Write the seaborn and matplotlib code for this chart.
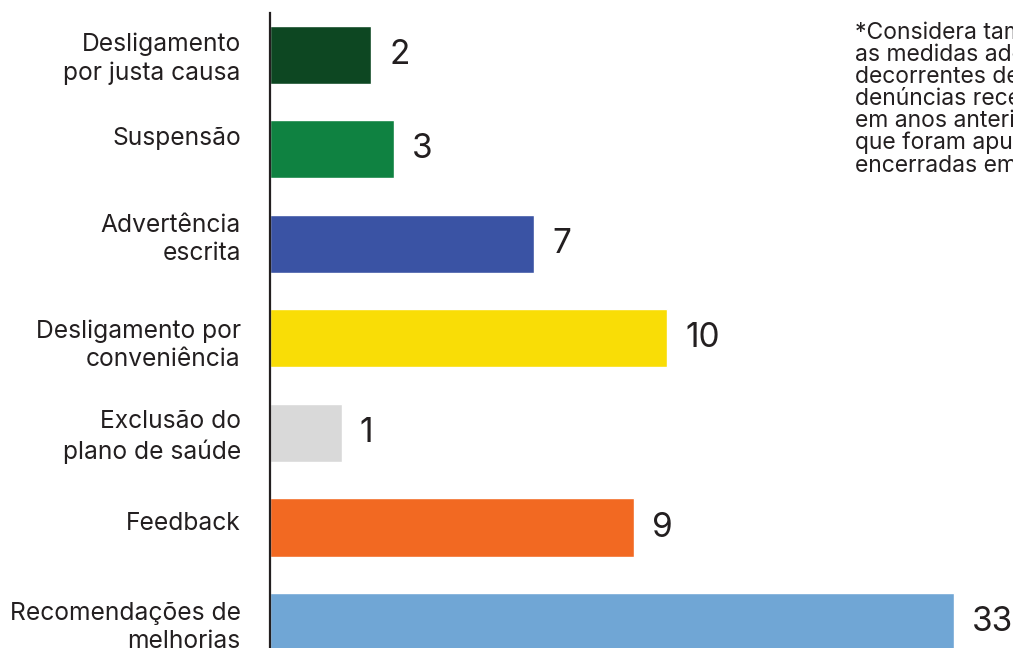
import matplotlib
matplotlib.use("Agg")
import matplotlib.pyplot as plt
import matplotlib.transforms as mtransforms
import seaborn as sns

# categorias e valores
categorias = ["Desligamento\npor justa causa", "Suspensão", "Advertência\nescrita",
              "Desligamento por\nconveniência", "Exclusão do\nplano de saúde",
              "Feedback", "Recomendações de\nmelhorias"]
valores = [2, 3, 7, 10, 1, 9, 33]
# comprimento desenhado das barras (escala nao linear)
comprimento = [2.55, 3.12, 6.65, 10.0, 1.81, 9.17, 17.23]
cores = ["#0d4722", "#0f8241", "#3a53a4", "#f9dd06", "#d9d9d9", "#f26922", "#70a6d5"]
# deslocamento vertical dos rotulos (pontos, positivo = para cima)
desloc_rotulo = [1, 10, 7, -1, 1, 5, 0]

nota = ("*Considera também\nas medidas adotadas\ndecorrentes de\ndenúncias recebidas\n"
        "em anos anteriores\nque foram apuradas e\nencerradas em 2023.")

sns.set_style("white")
plt.rcParams['font.family'] = ['Inter', 'DejaVu Sans']
texto = "#231f20"

fig = plt.figure(figsize=(10.13, 6.48), dpi=100)
ax = fig.add_axes([270/1013, 0, 1 - 270/1013, 1 - 13/648])

sns.barplot(x=comprimento, y=categorias, hue=categorias, palette=cores,
            legend=False, width=0.614, saturation=1, ax=ax, orient="h")

ax.set_xlim(0, 743/39.7)
ax.set_ylim(6.275, -0.444)
ax.set_xlabel("")
ax.set_ylabel("")
ax.set_xticks([])
for s in ["top", "right", "bottom"]:
    ax.spines[s].set_visible(False)
ax.spines["left"].set_color(texto)
ax.spines["left"].set_linewidth(1.6)
ax.tick_params(axis="y", length=0, pad=21, labelsize=17.7, labelcolor=texto)

for lab, dy in zip(ax.get_yticklabels(), desloc_rotulo):
    lab.set_linespacing(1.3)
    lab.set_transform(lab.get_transform() +
                      mtransforms.ScaledTranslation(0, dy/72, fig.dpi_scale_trans))

for i, (c, v) in enumerate(zip(comprimento, valores)):
    ax.annotate(str(v), xy=(c, i), xytext=(13, 0), textcoords="offset points",
                ha="left", va="center", fontsize=24, color=texto)

fig.text(855/1013, 1 - 22/648, nota, ha="left", va="top", fontsize=16.5,
         linespacing=1.0, color=texto)

fig.savefig("out.png", dpi=100)
